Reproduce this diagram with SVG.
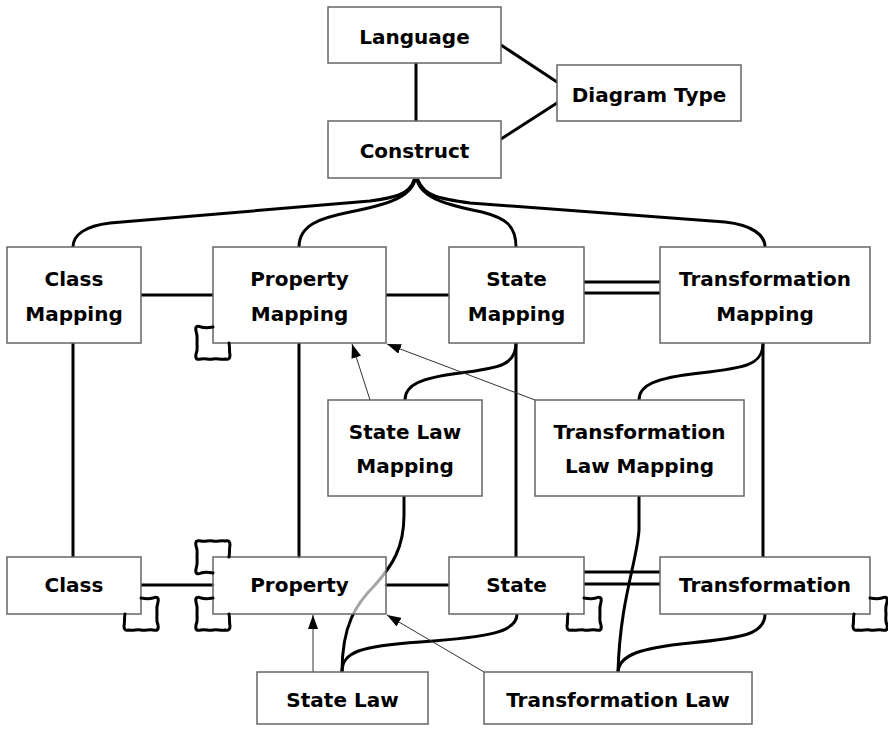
<svg xmlns="http://www.w3.org/2000/svg" width="888" height="729" viewBox="0 0 888 729">
  <style>
    .box { fill: #ffffff; stroke: #666666; stroke-width: 1.5; }
    .box-see { fill: #ffffff; fill-opacity: 0.65; stroke: #666666; stroke-width: 1.5; }
    .lbl { font-family: "Comic Sans MS", "DejaVu Sans", sans-serif; font-weight: bold; font-size: 20px; fill: #000000; text-anchor: middle; }
    .link { fill: none; stroke: #000000; stroke-width: 3; stroke-linecap: round; }
    .flow { fill: none; stroke: #333333; stroke-width: 1; }
    .loop { fill: none; stroke: #000000; stroke-width: 3; stroke-linejoin: round; stroke-linecap: round; }
  </style>
  <defs>
    <marker id="head" viewBox="0 0 14 10" refX="14" refY="5" markerWidth="14" markerHeight="10" markerUnits="userSpaceOnUse" orient="auto">
      <path d="M0,0 L14,5 L0,10 z" fill="#000000"/>
    </marker>
    <!-- self-loop squiggle, drawn for a bottom-right corner at the origin -->
    <path id="squiggle" class="loop" d="M0,-16 C5,-15 9,-15 12,-16 C16,-18 18,-16 17,-12 C15,-6 16,-2 16,0 C16,4 15,7 17,11 C18,16 16,17 12,16 C8,15 4,17 0,16 C-4,15 -8,17 -12,16 C-16,17 -17,15 -17,12 C-16,8 -17,4 -16,0"/>
  </defs>

  <rect width="888" height="729" fill="#ffffff"/>

  <g id="connectors">
    <!-- top cluster -->
    <path class="link" d="M416,63 L416,121"/>
    <path class="link" d="M501,45 L557,82"/>
    <path class="link" d="M501,139 L557,103"/>
    <!-- brace from Construct to the mapping row -->
    <path class="link" d="M414,180 C410,195 392,198 370,201 L110,223 C85,226 73,235 73,247"/>
    <path class="link" d="M415,180 C410,198 385,205 350,212 C320,218 299,225 299,247"/>
    <path class="link" d="M417,180 C422,198 447,205 482,212 C505,218 516,225 516,247"/>
    <path class="link" d="M418,180 C424,196 440,199 470,203 L725,222 C752,225 765,235 765,247"/>
    <!-- mapping row -->
    <path class="link" d="M141,295 L213,295"/>
    <path class="link" d="M386,295 L449,295"/>
    <path class="link" d="M584,282 L660,282"/>
    <path class="link" d="M584,293 L660,293"/>
    <!-- mappings down to the element row -->
    <path class="link" d="M73,343 L73,557"/>
    <path class="link" d="M299,343 L299,557"/>
    <path class="link" d="M516,343 L516,557"/>
    <path class="link" d="M763,343 L763,557"/>
    <path class="link" d="M516,343 C516,365 500,368 460,373 C420,378 405,385 405,400"/>
    <path class="link" d="M763,343 C763,365 745,368 700,373 C655,378 639,385 639,400"/>
    <!-- law mappings down to laws -->
    <path class="link" d="M404,496 L404,515 C404,548 392,566 375,585 C356,604 342,625 342,672"/>
    <path class="link" d="M639,496 L639,530 C637,562 620,600 618,672"/>
    <!-- element row -->
    <path class="link" d="M141,585 L213,585"/>
    <path class="link" d="M386,585 L449,585"/>
    <path class="link" d="M584,572 L660,572"/>
    <path class="link" d="M584,584 L660,584"/>
    <path class="link" d="M342,672 C342,652 360,646 420,642 C490,637 517,632 517,614"/>
    <path class="link" d="M765,614 C765,635 740,638 690,643 C640,648 619,655 618,672"/>
    <!-- thin arrows -->
    <path class="flow" d="M313,672 L313,615" marker-end="url(#head)"/>
    <path class="flow" d="M484,672 L387,615" marker-end="url(#head)"/>
    <path class="flow" d="M370,400 L352,344" marker-end="url(#head)"/>
    <path class="flow" d="M535,400 L387,344" marker-end="url(#head)"/>
  </g>

  <g id="language">
    <rect class="box" x="328" y="7" width="173" height="56"/>
    <text class="lbl" x="414.5" y="44">Language</text>
  </g>
  <g id="diagram-type">
    <rect class="box" x="557" y="65" width="184" height="56"/>
    <text class="lbl" x="649" y="102">Diagram Type</text>
  </g>
  <g id="construct">
    <rect class="box" x="328" y="121" width="173" height="57"/>
    <text class="lbl" x="414.5" y="158">Construct</text>
  </g>

  <g id="class-mapping">
    <rect class="box" x="7" y="247" width="134" height="96"/>
    <text class="lbl" x="74" y="286">Class</text>
    <text class="lbl" x="74" y="321">Mapping</text>
  </g>
  <g id="property-mapping">
    <rect class="box" x="213" y="247" width="173" height="96"/>
    <text class="lbl" x="299.5" y="286">Property</text>
    <text class="lbl" x="299.5" y="321">Mapping</text>
    <use href="#squiggle" transform="translate(213,343) scale(-1,1)"/>
  </g>
  <g id="state-mapping">
    <rect class="box" x="449" y="247" width="135" height="96"/>
    <text class="lbl" x="516.5" y="286">State</text>
    <text class="lbl" x="516.5" y="321">Mapping</text>
  </g>
  <g id="transformation-mapping">
    <rect class="box" x="660" y="247" width="210" height="96"/>
    <text class="lbl" x="765" y="286">Transformation</text>
    <text class="lbl" x="765" y="321">Mapping</text>
  </g>

  <g id="state-law-mapping">
    <rect class="box" x="328" y="400" width="154" height="96"/>
    <text class="lbl" x="405" y="439">State Law</text>
    <text class="lbl" x="405" y="473">Mapping</text>
  </g>
  <g id="transformation-law-mapping">
    <rect class="box" x="535" y="400" width="209" height="96"/>
    <text class="lbl" x="639.5" y="439">Transformation</text>
    <text class="lbl" x="639.5" y="473">Law Mapping</text>
  </g>

  <g id="class">
    <rect class="box" x="7" y="557" width="134" height="57"/>
    <text class="lbl" x="74" y="592">Class</text>
    <use href="#squiggle" transform="translate(141,614)"/>
  </g>
  <g id="property">
    <rect class="box-see" x="213" y="557" width="173" height="57"/>
    <text class="lbl" x="299.5" y="592">Property</text>
    <use href="#squiggle" transform="translate(213,557) scale(-1,-1)"/>
    <use href="#squiggle" transform="translate(213,614) scale(-1,1)"/>
  </g>
  <g id="state">
    <rect class="box" x="449" y="557" width="135" height="57"/>
    <text class="lbl" x="516.5" y="592">State</text>
    <use href="#squiggle" transform="translate(584,614)"/>
  </g>
  <g id="transformation">
    <rect class="box" x="660" y="557" width="210" height="57"/>
    <text class="lbl" x="765" y="592">Transformation</text>
    <use href="#squiggle" transform="translate(870,614)"/>
  </g>

  <g id="state-law">
    <rect class="box" x="257" y="672" width="171" height="52"/>
    <text class="lbl" x="342.5" y="707">State Law</text>
  </g>
  <g id="transformation-law">
    <rect class="box" x="484" y="672" width="268" height="52"/>
    <text class="lbl" x="618" y="707">Transformation Law</text>
  </g>
</svg>
